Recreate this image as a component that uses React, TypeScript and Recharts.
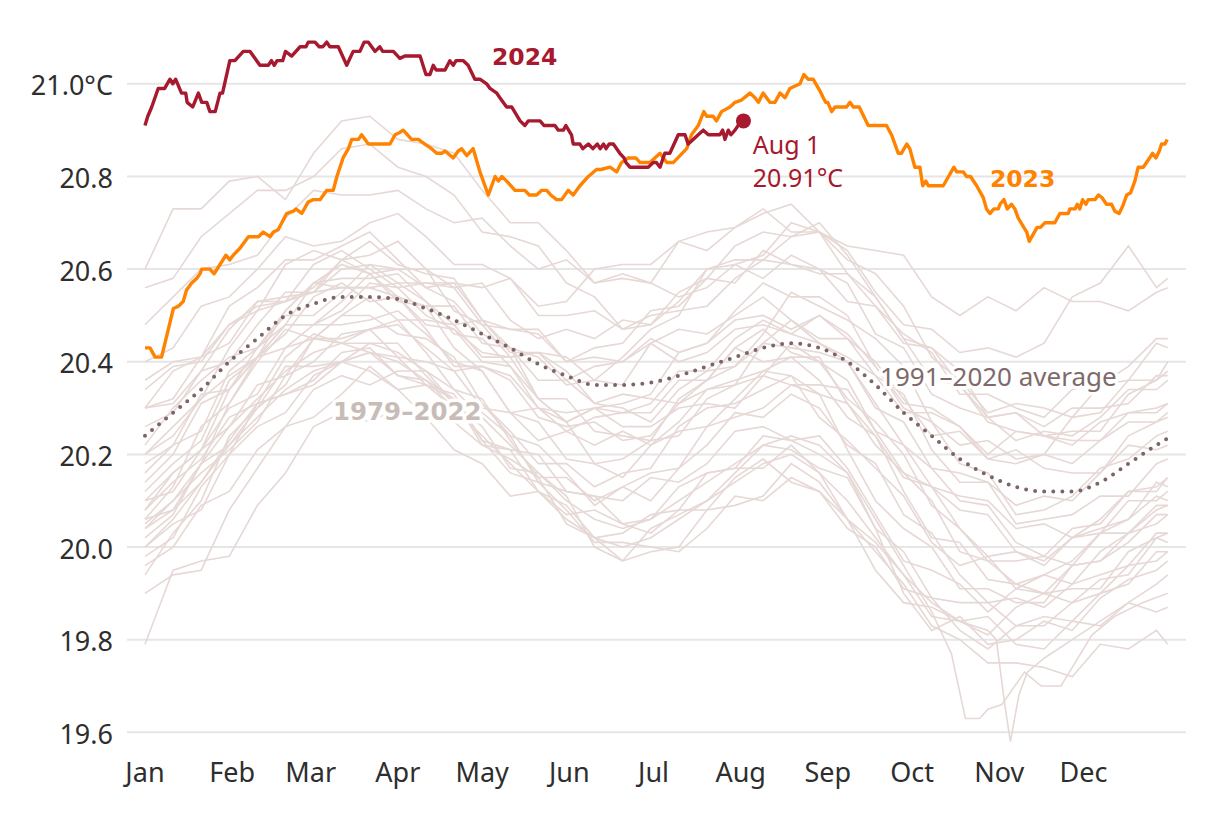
import { LineChart, Line, XAxis, YAxis, CartesianGrid, ReferenceDot } from 'recharts';

const RED = '#a6192e';
const ORANGE = '#ff8300';
const AVG_COLOR = '#7d6465';
const BG_LINE = '#e6d8d5';
const GRID_STROKE = '#e6e6e6';
const TICK_FILL = '#2e2e2e';
const FONT = '"Noto Sans", sans-serif';
const BOLD_FONT = '"DejaVu Sans", sans-serif';

const MONTH_TICKS = [0, 31, 59, 90, 120, 151, 181, 212, 243, 273, 304, 334];
const MONTH_LABELS = ['Jan', 'Feb', 'Mar', 'Apr', 'May', 'Jun', 'Jul', 'Aug', 'Sep', 'Oct', 'Nov', 'Dec'];
const TEMP_TICKS = [19.6, 19.8, 20.0, 20.2, 20.4, 20.6, 20.8, 21.0];

// day of year, °C
const SST_2024: [number, number][] = [
  [0, 20.91], [1, 20.93], [2.4, 20.95], [4.7, 20.99], [7, 20.99], [8.9, 21.01], [9.9, 21.0], [10.9, 21.01],
  [13, 20.98], [14.5, 20.98], [15, 20.96], [17, 20.95], [19, 20.98], [20.2, 20.96], [22, 20.96], [23.1, 20.94],
  [25, 20.94], [26.7, 20.98], [27.6, 20.98], [30.2, 21.05], [32, 21.05], [35, 21.07], [37.4, 21.07], [40.9, 21.04],
  [43.9, 21.04], [45, 21.05], [46, 21.04], [47, 21.05], [49, 21.05], [50, 21.07], [52.2, 21.06], [55.2, 21.08],
  [57.3, 21.08], [58.1, 21.09], [60.5, 21.09], [62, 21.08], [63.3, 21.08], [64.7, 21.09], [65.8, 21.08], [68.8, 21.08],
  [71.8, 21.04], [74.1, 21.07], [76.5, 21.07], [78, 21.09], [79.5, 21.09], [81.9, 21.07], [83.6, 21.08], [84.6, 21.07],
  [88.4, 21.07], [90.7, 21.055], [92.5, 21.06], [97.9, 21.06], [100, 21.02], [101.4, 21.02], [102.6, 21.04], [103.6, 21.03],
  [106.8, 21.03], [108.5, 21.05], [109.7, 21.04], [110.7, 21.05], [113.3, 21.05], [115, 21.04], [117.4, 21.01], [119.2, 21.01],
  [121.6, 21.0], [122.8, 20.99], [125.2, 20.98], [126.3, 20.97], [128.7, 20.95], [130.5, 20.95], [133.5, 20.92], [135.2, 20.91],
  [136.4, 20.92], [140.6, 20.92], [142, 20.91], [145.9, 20.91], [147.1, 20.9], [148.9, 20.9], [149.8, 20.91], [151.8, 20.89],
  [152.4, 20.87], [154.8, 20.87], [155.8, 20.86], [157.8, 20.87], [159.4, 20.86], [161, 20.87], [162, 20.86], [163.2, 20.87],
  [164.1, 20.86], [165.2, 20.87], [166.7, 20.87], [169, 20.85], [170.5, 20.84], [171.2, 20.83], [172.6, 20.82], [179.1, 20.82],
  [180.9, 20.83], [182, 20.83], [183.3, 20.82], [185, 20.85], [186.8, 20.85], [189.8, 20.89], [192.2, 20.89], [193.3, 20.87],
  [195.1, 20.88], [196.9, 20.89], [198.7, 20.9], [200.5, 20.89], [204.6, 20.89], [205.6, 20.9], [206.4, 20.88], [207.6, 20.9],
  [208.5, 20.89], [210, 20.9], [211.1, 20.91], [213, 20.92],
];

const SST_2023: [number, number][] = [
  [0, 20.43], [1.8, 20.43], [3.6, 20.41], [5.9, 20.41], [8.3, 20.47], [10.1, 20.515], [11.9, 20.52], [13.6, 20.53],
  [14.8, 20.555], [16.6, 20.57], [18.4, 20.58], [19.6, 20.59], [20.2, 20.6], [23.1, 20.6], [24.6, 20.59], [26.7, 20.61],
  [28.8, 20.63], [30.2, 20.62], [31.4, 20.63], [33.8, 20.645], [36.8, 20.67], [40.4, 20.67], [42.1, 20.68], [44.5, 20.67],
  [45.7, 20.68], [47.4, 20.685], [50.4, 20.72], [52.8, 20.725], [53.7, 20.73], [55.8, 20.72], [58.1, 20.745], [59.9, 20.75],
  [62.3, 20.75], [63.5, 20.76], [64.7, 20.77], [67, 20.77], [68.3, 20.8], [70.5, 20.84], [72.4, 20.86], [73.6, 20.88],
  [76, 20.88], [77.1, 20.89], [79.5, 20.87], [87.2, 20.87], [89, 20.89], [90.7, 20.895], [91.9, 20.9], [94.9, 20.88],
  [97.3, 20.88], [99.6, 20.87], [102, 20.86], [103.8, 20.85], [105.6, 20.85], [106.8, 20.855], [109.7, 20.84], [111.5, 20.855],
  [112.7, 20.86], [114.5, 20.845], [116.8, 20.86], [119.2, 20.81], [122.2, 20.76], [124.6, 20.8], [125.8, 20.79], [127, 20.8],
  [128.7, 20.79], [131.7, 20.77], [135.2, 20.77], [136.8, 20.76], [139.4, 20.76], [141.2, 20.77], [143, 20.77], [144.4, 20.76],
  [146.5, 20.75], [148.3, 20.75], [150.6, 20.77], [152.4, 20.76], [154.8, 20.78], [157.8, 20.8], [160.7, 20.815], [162.3, 20.815],
  [165.5, 20.82], [167.9, 20.81], [169.6, 20.83], [172, 20.84], [174.7, 20.84], [176.2, 20.83], [179.7, 20.83], [183.3, 20.85],
  [185.7, 20.83], [188, 20.83], [190.4, 20.845], [192.8, 20.86], [194.5, 20.89], [196.9, 20.91], [198.9, 20.94], [199.9, 20.93],
  [202.2, 20.93], [203.4, 20.92], [205.2, 20.94], [208.2, 20.95], [210, 20.96], [212.3, 20.965], [215.3, 20.98], [217.1, 20.97],
  [218.3, 20.96], [220, 20.98], [222.4, 20.96], [224.2, 20.96], [226, 20.98], [227.8, 20.97], [229.5, 20.99], [233.1, 21.0],
  [234.5, 21.02], [236, 21.01], [237.8, 21.01], [240.2, 20.985], [241.4, 20.97], [242.3, 20.96], [243, 20.96], [244.4, 20.94],
  [245.6, 20.95], [249.7, 20.95], [250.9, 20.96], [252.1, 20.95], [254.2, 20.95], [257.4, 20.91], [263.9, 20.91], [265.7, 20.89],
  [268.1, 20.85], [269.2, 20.85], [271.1, 20.87], [272.2, 20.86], [274, 20.82], [275.8, 20.82], [276.8, 20.78], [277.9, 20.79],
  [278.8, 20.78], [284.1, 20.78], [287.9, 20.82], [288.9, 20.81], [291.2, 20.81], [292.4, 20.8], [293.8, 20.8], [296, 20.78],
  [298.3, 20.755], [299.5, 20.73], [300.7, 20.72], [302.1, 20.73], [303.7, 20.73], [304.3, 20.74], [305.7, 20.75], [306.9, 20.73],
  [308.4, 20.74], [309.6, 20.73], [310.8, 20.71], [312.3, 20.695], [313.8, 20.68], [314.7, 20.66], [316.1, 20.675], [317.5, 20.69],
  [318.7, 20.69], [320.3, 20.7], [323.8, 20.7], [325.6, 20.72], [328.6, 20.72], [329.2, 20.73], [331, 20.73], [331.8, 20.74],
  [332.7, 20.73], [333.7, 20.75], [334.9, 20.74], [335.7, 20.75], [338.1, 20.75], [339.3, 20.76], [340.5, 20.755], [342.2, 20.74],
  [344, 20.74], [345.2, 20.725], [346.7, 20.72], [347.9, 20.735], [349.4, 20.76], [350.8, 20.765], [352.3, 20.79], [353.5, 20.82],
  [355.3, 20.82], [357, 20.835], [358.6, 20.85], [359.8, 20.84], [361, 20.855], [361.8, 20.87], [363, 20.87], [363.8, 20.88],
];

const BG_DAYS = [0, 10, 20, 30, 40, 50, 60, 70, 80, 90, 100, 110, 120, 130, 140, 150, 160, 170, 180, 190,
  200, 210, 220, 230, 240, 250, 260, 270, 280, 290, 300, 310, 320, 330, 340, 350, 360, 364];

const AVG_1991_2020 = [20.24, 20.29, 20.34, 20.4, 20.45, 20.5, 20.525, 20.54, 20.54, 20.535, 20.515, 20.49, 20.46, 20.43,
  20.395, 20.37, 20.35, 20.35, 20.355, 20.37, 20.39, 20.41, 20.43, 20.44, 20.43, 20.4, 20.35, 20.29, 20.24, 20.19,
  20.155, 20.13, 20.12, 20.12, 20.14, 20.18, 20.22, 20.235];

// 1979–2022 years, sampled on BG_DAYS
const PAST_YEARS: number[][] = [
  [20.60, 20.73, 20.73, 20.79, 20.80, 20.75, 20.85, 20.92, 20.93, 20.88, 20.87, 20.85, 20.77, 20.70, 20.70, 20.64, 20.57, 20.59, 20.57, 20.54, 20.56, 20.61, 20.58, 20.63, 20.60, 20.53, 20.52, 20.44, 20.43, 20.35, 20.28, 20.29, 20.26, 20.30, 20.30, 20.31, 20.37, 20.37],
  [20.56, 20.58, 20.67, 20.72, 20.77, 20.77, 20.80, 20.86, 20.87, 20.82, 20.80, 20.76, 20.68, 20.67, 20.65, 20.57, 20.54, 20.47, 20.50, 20.51, 20.52, 20.58, 20.62, 20.61, 20.59, 20.59, 20.54, 20.45, 20.36, 20.35, 20.27, 20.25, 20.24, 20.22, 20.27, 20.29, 20.29, 20.31],
  [20.48, 20.54, 20.60, 20.61, 20.63, 20.71, 20.77, 20.76, 20.76, 20.77, 20.73, 20.70, 20.71, 20.65, 20.60, 20.62, 20.57, 20.58, 20.57, 20.66, 20.68, 20.69, 20.72, 20.74, 20.68, 20.65, 20.64, 20.63, 20.54, 20.50, 20.54, 20.51, 20.56, 20.53, 20.53, 20.51, 20.55, 20.56],
  [20.18, 20.22, 20.25, 20.38, 20.43, 20.50, 20.50, 20.55, 20.61, 20.60, 20.56, 20.57, 20.56, 20.58, 20.52, 20.53, 20.60, 20.61, 20.61, 20.66, 20.64, 20.69, 20.73, 20.68, 20.68, 20.64, 20.55, 20.48, 20.47, 20.42, 20.43, 20.41, 20.44, 20.54, 20.57, 20.65, 20.56, 20.58],
  [20.40, 20.43, 20.52, 20.54, 20.60, 20.67, 20.65, 20.66, 20.70, 20.72, 20.67, 20.61, 20.61, 20.58, 20.50, 20.50, 20.51, 20.47, 20.48, 20.55, 20.58, 20.57, 20.64, 20.61, 20.60, 20.57, 20.46, 20.43, 20.33, 20.30, 20.28, 20.23, 20.25, 20.24, 20.28, 20.34, 20.34, 20.36],
  [20.30, 20.38, 20.41, 20.48, 20.51, 20.61, 20.64, 20.62, 20.63, 20.66, 20.60, 20.56, 20.57, 20.49, 20.45, 20.47, 20.45, 20.49, 20.48, 20.53, 20.60, 20.62, 20.62, 20.67, 20.68, 20.59, 20.52, 20.46, 20.42, 20.33, 20.33, 20.30, 20.28, 20.34, 20.35, 20.39, 20.45, 20.45],
  [20.20, 20.24, 20.32, 20.43, 20.51, 20.53, 20.55, 20.62, 20.66, 20.61, 20.59, 20.58, 20.49, 20.47, 20.46, 20.40, 20.43, 20.44, 20.51, 20.52, 20.58, 20.65, 20.68, 20.67, 20.70, 20.63, 20.54, 20.45, 20.43, 20.38, 20.28, 20.29, 20.24, 20.23, 20.23, 20.29, 20.30, 20.31],
  [20.14, 20.20, 20.31, 20.34, 20.43, 20.48, 20.57, 20.61, 20.59, 20.60, 20.60, 20.51, 20.48, 20.41, 20.42, 20.41, 20.36, 20.41, 20.47, 20.50, 20.60, 20.61, 20.63, 20.70, 20.68, 20.62, 20.59, 20.52, 20.41, 20.36, 20.29, 20.31, 20.30, 20.28, 20.35, 20.36, 20.44, 20.43],
  [20.30, 20.32, 20.41, 20.44, 20.53, 20.53, 20.56, 20.62, 20.59, 20.53, 20.52, 20.52, 20.44, 20.43, 20.41, 20.35, 20.36, 20.35, 20.44, 20.47, 20.46, 20.50, 20.54, 20.49, 20.45, 20.45, 20.40, 20.32, 20.24, 20.25, 20.19, 20.18, 20.20, 20.18, 20.23, 20.27, 20.27, 20.29],
  [20.22, 20.30, 20.36, 20.41, 20.43, 20.51, 20.57, 20.58, 20.58, 20.59, 20.53, 20.46, 20.45, 20.39, 20.32, 20.32, 20.25, 20.24, 20.23, 20.32, 20.36, 20.39, 20.46, 20.55, 20.52, 20.49, 20.45, 20.39, 20.27, 20.18, 20.16, 20.07, 20.08, 20.11, 20.17, 20.19, 20.24, 20.25],
  [20.10, 20.16, 20.21, 20.34, 20.41, 20.48, 20.48, 20.51, 20.57, 20.56, 20.50, 20.47, 20.40, 20.39, 20.30, 20.25, 20.28, 20.29, 20.31, 20.38, 20.38, 20.45, 20.49, 20.46, 20.44, 20.40, 20.31, 20.22, 20.17, 20.10, 20.09, 20.01, 19.98, 20.04, 20.05, 20.12, 20.12, 20.15],
  [20.34, 20.39, 20.40, 20.48, 20.52, 20.53, 20.61, 20.64, 20.60, 20.56, 20.57, 20.57, 20.49, 20.42, 20.42, 20.38, 20.31, 20.33, 20.32, 20.31, 20.36, 20.43, 20.40, 20.41, 20.36, 20.28, 20.24, 20.15, 20.13, 20.04, 19.98, 19.99, 19.97, 20.02, 20.04, 20.06, 20.11, 20.10],
  [20.04, 20.08, 20.18, 20.31, 20.41, 20.43, 20.45, 20.50, 20.54, 20.49, 20.49, 20.48, 20.41, 20.41, 20.42, 20.36, 20.39, 20.40, 20.45, 20.42, 20.44, 20.49, 20.50, 20.47, 20.50, 20.45, 20.37, 20.29, 20.29, 20.26, 20.20, 20.25, 20.24, 20.25, 20.25, 20.33, 20.36, 20.38],
  [20.16, 20.22, 20.33, 20.34, 20.41, 20.46, 20.54, 20.57, 20.53, 20.54, 20.52, 20.43, 20.38, 20.29, 20.30, 20.27, 20.18, 20.19, 20.23, 20.24, 20.32, 20.35, 20.37, 20.44, 20.40, 20.32, 20.27, 20.20, 20.09, 20.04, 19.97, 19.97, 19.98, 19.96, 20.03, 20.06, 20.14, 20.13],
  [20.26, 20.29, 20.38, 20.40, 20.48, 20.55, 20.55, 20.56, 20.56, 20.54, 20.47, 20.39, 20.39, 20.36, 20.28, 20.26, 20.27, 20.23, 20.24, 20.31, 20.34, 20.35, 20.44, 20.43, 20.42, 20.40, 20.30, 20.27, 20.17, 20.16, 20.14, 20.09, 20.11, 20.10, 20.16, 20.22, 20.21, 20.22],
  [20.08, 20.16, 20.21, 20.30, 20.33, 20.43, 20.48, 20.48, 20.49, 20.51, 20.46, 20.40, 20.38, 20.29, 20.23, 20.25, 20.22, 20.25, 20.22, 20.27, 20.34, 20.36, 20.38, 20.41, 20.41, 20.31, 20.22, 20.16, 20.10, 19.99, 19.97, 19.92, 19.90, 19.96, 19.97, 20.03, 20.09, 20.09],
  [20.20, 20.26, 20.32, 20.37, 20.41, 20.51, 20.57, 20.56, 20.56, 20.57, 20.53, 20.48, 20.49, 20.43, 20.36, 20.36, 20.31, 20.30, 20.27, 20.34, 20.38, 20.39, 20.44, 20.49, 20.44, 20.41, 20.37, 20.33, 20.21, 20.14, 20.14, 20.05, 20.06, 20.07, 20.11, 20.11, 20.18, 20.19],
  [20.12, 20.18, 20.23, 20.36, 20.41, 20.48, 20.48, 20.53, 20.59, 20.54, 20.48, 20.47, 20.42, 20.41, 20.32, 20.27, 20.30, 20.29, 20.29, 20.36, 20.36, 20.43, 20.47, 20.42, 20.40, 20.36, 20.25, 20.16, 20.13, 20.08, 20.07, 19.99, 19.96, 20.02, 20.03, 20.10, 20.10, 20.12],
  [20.02, 20.07, 20.18, 20.22, 20.30, 20.39, 20.39, 20.40, 20.44, 20.44, 20.37, 20.31, 20.29, 20.24, 20.14, 20.12, 20.11, 20.05, 20.06, 20.13, 20.16, 20.17, 20.24, 20.23, 20.20, 20.16, 20.04, 19.99, 19.89, 19.88, 19.88, 19.83, 19.85, 19.84, 19.90, 19.96, 19.97, 19.99],
  [19.98, 20.02, 20.13, 20.20, 20.31, 20.33, 20.36, 20.42, 20.43, 20.37, 20.36, 20.32, 20.22, 20.19, 20.15, 20.05, 20.02, 19.97, 20.04, 20.07, 20.10, 20.16, 20.22, 20.21, 20.17, 20.15, 20.04, 19.90, 19.82, 19.85, 19.79, 19.80, 19.84, 19.82, 19.89, 19.93, 19.95, 19.97],
  [20.06, 20.08, 20.14, 20.23, 20.31, 20.33, 20.35, 20.40, 20.42, 20.37, 20.35, 20.32, 20.23, 20.21, 20.20, 20.12, 20.11, 20.10, 20.15, 20.14, 20.18, 20.25, 20.26, 20.23, 20.24, 20.17, 20.07, 19.97, 19.95, 19.92, 19.86, 19.91, 19.90, 19.91, 19.91, 19.99, 20.02, 20.03],
  [19.79, 19.95, 19.97, 19.98, 20.09, 20.16, 20.26, 20.29, 20.27, 20.30, 20.28, 20.21, 20.18, 20.11, 20.12, 20.09, 20.02, 20.03, 20.07, 20.08, 20.16, 20.17, 20.17, 20.22, 20.16, 20.06, 19.99, 19.92, 19.83, 19.80, 19.75, 19.75, 19.74, 19.72, 19.79, 19.78, 19.82, 19.79],
  [20.00, 20.05, 20.08, 20.20, 20.26, 20.29, 20.37, 20.40, 20.38, 20.34, 20.35, 20.33, 20.23, 20.16, 20.14, 20.08, 20.01, 20.01, 20.00, 19.99, 20.04, 20.11, 20.10, 20.15, 20.12, 20.04, 20.00, 19.91, 19.89, 19.82, 19.78, 19.83, 19.83, 19.88, 19.90, 19.92, 19.99, 19.99],
  [19.90, 19.94, 19.95, 20.08, 20.17, 20.26, 20.28, 20.33, 20.39, 20.34, 20.28, 20.27, 20.22, 20.21, 20.12, 20.07, 20.08, 20.05, 20.03, 20.08, 20.08, 20.15, 20.19, 20.14, 20.12, 20.06, 19.95, 19.88, 19.87, 19.84, 19.85, 19.79, 19.78, 19.84, 19.83, 19.88, 19.86, 19.87],
  [20.08, 20.14, 20.19, 20.28, 20.31, 20.41, 20.46, 20.44, 20.47, 20.49, 20.42, 20.34, 20.32, 20.23, 20.15, 20.15, 20.10, 20.13, 20.10, 20.17, 20.26, 20.28, 20.30, 20.35, 20.33, 20.21, 20.10, 20.04, 20.00, 19.91, 19.91, 19.88, 19.88, 19.96, 19.97, 20.01, 20.07, 20.07],
  [20.04, 20.10, 20.16, 20.21, 20.27, 20.37, 20.45, 20.44, 20.42, 20.41, 20.35, 20.30, 20.31, 20.25, 20.18, 20.18, 20.13, 20.16, 20.17, 20.26, 20.30, 20.31, 20.34, 20.37, 20.28, 20.23, 20.17, 20.11, 20.01, 19.96, 19.98, 19.91, 19.94, 19.97, 20.03, 20.03, 20.08, 20.09],
  [19.96, 20.00, 20.09, 20.12, 20.21, 20.26, 20.34, 20.37, 20.35, 20.38, 20.38, 20.31, 20.26, 20.17, 20.16, 20.11, 20.00, 19.97, 19.99, 20.00, 20.08, 20.09, 20.11, 20.18, 20.14, 20.06, 20.01, 19.94, 19.85, 19.84, 19.81, 19.87, 19.90, 19.88, 19.93, 19.94, 20.02, 20.01],
  [20.10, 20.12, 20.21, 20.26, 20.35, 20.37, 20.40, 20.46, 20.47, 20.41, 20.40, 20.38, 20.30, 20.29, 20.27, 20.19, 20.18, 20.15, 20.22, 20.25, 20.26, 20.32, 20.38, 20.37, 20.33, 20.31, 20.24, 20.12, 20.02, 20.01, 19.93, 19.92, 19.94, 19.92, 19.99, 20.03, 20.05, 20.07],
  [20.30, 20.31, 20.38, 20.47, 20.53, 20.54, 20.55, 20.60, 20.61, 20.57, 20.57, 20.56, 20.48, 20.47, 20.47, 20.40, 20.41, 20.40, 20.44, 20.40, 20.42, 20.47, 20.48, 20.46, 20.50, 20.46, 20.39, 20.31, 20.30, 20.26, 20.19, 20.21, 20.17, 20.16, 20.16, 20.24, 20.27, 20.28],
  [20.06, 20.13, 20.26, 20.31, 20.40, 20.47, 20.45, 20.45, 20.47, 20.48, 20.43, 20.38, 20.39, 20.37, 20.30, 20.29, 20.30, 20.26, 20.26, 20.30, 20.31, 20.30, 20.37, 20.35, 20.35, 20.34, 20.25, 20.22, 20.13, 20.11, 20.10, 20.04, 20.05, 20.02, 20.06, 20.12, 20.13, 20.15],
  [20.36, 20.40, 20.41, 20.52, 20.56, 20.62, 20.62, 20.65, 20.68, 20.62, 20.56, 20.53, 20.46, 20.43, 20.32, 20.27, 20.30, 20.31, 20.33, 20.42, 20.44, 20.51, 20.57, 20.54, 20.54, 20.50, 20.39, 20.30, 20.27, 20.22, 20.23, 20.19, 20.20, 20.28, 20.29, 20.36, 20.36, 20.40],
  [19.94, 20.03, 20.10, 20.24, 20.30, 20.35, 20.45, 20.50, 20.50, 20.46, 20.45, 20.41, 20.31, 20.24, 20.22, 20.16, 20.09, 20.13, 20.16, 20.17, 20.22, 20.29, 20.28, 20.33, 20.30, 20.22, 20.18, 20.07, 20.03, 19.94, 19.88, 19.89, 19.87, 19.92, 19.94, 19.96, 20.03, 20.03],
];

// two past years with a sharp November dip, sampled more finely there
const DIP_YEAR_A: [number, number][] = [
  [0, 20.0], [10, 20.06], [20, 20.14], [30, 20.22], [40, 20.28], [50, 20.34], [60, 20.38], [70, 20.4], [80, 20.42],
  [90, 20.4], [100, 20.36], [110, 20.3], [120, 20.24], [130, 20.18], [140, 20.12], [150, 20.06], [160, 20.02], [170, 20.0],
  [180, 20.02], [190, 20.06], [200, 20.1], [210, 20.14], [220, 20.18], [230, 20.2], [240, 20.16], [250, 20.1], [260, 20.02],
  [270, 19.94], [280, 19.88], [290, 19.84], [300, 19.82], [303, 19.8], [306, 19.66], [308, 19.58], [311, 19.68], [314, 19.73],
  [320, 19.76], [330, 19.8], [340, 19.84], [350, 19.88], [360, 19.92], [364, 19.94],
];
const DIP_YEAR_B: [number, number][] = [
  [0, 20.05], [10, 20.1], [20, 20.18], [30, 20.26], [40, 20.32], [50, 20.38], [60, 20.42], [70, 20.44], [80, 20.44],
  [90, 20.42], [100, 20.38], [110, 20.34], [120, 20.28], [130, 20.22], [140, 20.16], [150, 20.1], [160, 20.06], [170, 20.04],
  [180, 20.06], [190, 20.1], [200, 20.14], [210, 20.18], [220, 20.22], [230, 20.24], [240, 20.22], [250, 20.16], [260, 20.06],
  [270, 19.96], [280, 19.86], [287, 19.77], [292, 19.63], [297, 19.63], [300, 19.65], [305, 19.66], [313, 19.73], [319, 19.7],
  [326, 19.7], [337, 19.81], [345, 19.85], [355, 19.88], [364, 19.9],
];

const fromPairs = (pairs: [number, number][]) => pairs.map(([day, v]) => ({ day, v }));
const onGrid = (vals: number[]) => vals.map((v, i) => ({ day: BG_DAYS[i], v }));

const LAST_2024 = SST_2024[SST_2024.length - 1];

function textMark(text: string, color: string, size: number, bold = false, halo = false) {
  return (p: any) => {
    const vb = p.viewBox || {};
    return (
      <text
        x={vb.x}
        y={vb.y}
        fill={color}
        fontSize={size}
        fontFamily={bold ? BOLD_FONT : FONT}
        fontWeight={bold ? 700 : 400}
        stroke={halo ? '#ffffff' : 'none'}
        strokeWidth={halo ? 7 : 0}
        strokeLinejoin="round"
        paintOrder="stroke"
      >
        {text}
      </text>
    );
  };
}

export default function App() {
  const tickStyle = { fill: TICK_FILL, fontSize: 27, fontFamily: FONT };
  return (
    <div style={{ position: 'absolute', left: 0, top: 0, background: '#ffffff' }}>
      <LineChart width={1220} height={820} margin={{ top: 37.5, right: 34, bottom: 34.5, left: 27 }}>
        <CartesianGrid vertical={false} stroke={GRID_STROKE} strokeWidth={2} syncWithTicks />
        <XAxis
          type="number"
          dataKey="day"
          domain={[-6.4, 370.5]}
          ticks={MONTH_TICKS}
          interval={0}
          tickFormatter={(d: number) => MONTH_LABELS[MONTH_TICKS.indexOf(d)]}
          axisLine={false}
          tickLine={false}
          tick={tickStyle}
          tickMargin={1}
          height={30}
        />
        <YAxis
          type="number"
          domain={[19.55, 21.1]}
          ticks={TEMP_TICKS}
          interval={0}
          tickFormatter={(v: number) => (v >= 21 ? `${v.toFixed(1)}°C` : v.toFixed(1))}
          axisLine={false}
          tickLine={false}
          tick={{ ...tickStyle, dy: 2 }}
          tickMargin={8}
          width={100}
        />
        {PAST_YEARS.map((vals, i) => (
          <Line
            key={`past-${i}`}
            data={onGrid(vals)}
            dataKey="v"
            type="linear"
            stroke={BG_LINE}
            strokeWidth={1.6}
            dot={false}
            activeDot={false}
            isAnimationActive={false}
          />
        ))}
        {[DIP_YEAR_A, DIP_YEAR_B].map((pairs, i) => (
          <Line
            key={`dip-${i}`}
            data={fromPairs(pairs)}
            dataKey="v"
            type="linear"
            stroke={BG_LINE}
            strokeWidth={1.6}
            dot={false}
            activeDot={false}
            isAnimationActive={false}
          />
        ))}
        <Line
          data={onGrid(AVG_1991_2020)}
          dataKey="v"
          type="monotone"
          stroke={AVG_COLOR}
          strokeWidth={4}
          strokeDasharray="0 9.1"
          strokeLinecap="round"
          dot={false}
          activeDot={false}
          isAnimationActive={false}
        />
        <Line
          data={fromPairs(SST_2023)}
          dataKey="v"
          type="linear"
          stroke={ORANGE}
          strokeWidth={3.4}
          strokeLinejoin="round"
          dot={false}
          activeDot={false}
          isAnimationActive={false}
        />
        <Line
          data={fromPairs(SST_2024)}
          dataKey="v"
          type="linear"
          stroke={RED}
          strokeWidth={3.4}
          strokeLinejoin="round"
          dot={false}
          activeDot={false}
          isAnimationActive={false}
        />
        <ReferenceDot x={LAST_2024[0]} y={LAST_2024[1]} r={7.5} fill={RED} stroke="none" />
        <ReferenceDot x={123.5} y={21.04} r={0} fill="none" stroke="none" label={textMark('2024', RED, 23.5, true)} />
        <ReferenceDot x={300.7} y={20.777} r={0} fill="none" stroke="none" label={textMark('2023', ORANGE, 23.5, true)} />
        <ReferenceDot x={216.3} y={20.848} r={0} fill="none" stroke="none" label={textMark('Aug 1', RED, 25)} />
        <ReferenceDot x={216.3} y={20.778} r={0} fill="none" stroke="none" label={textMark('20.91°C', RED, 25)} />
        <ReferenceDot x={66.9} y={20.274} r={0} fill="none" stroke="none" label={textMark('1979–2022', '#c8bcb8', 24.5, true, true)} />
        <ReferenceDot x={261.6} y={20.348} r={0} fill="none" stroke="none" label={textMark('1991–2020 average', '#7f6a6b', 26, false, true)} />
      </LineChart>
    </div>
  );
}
